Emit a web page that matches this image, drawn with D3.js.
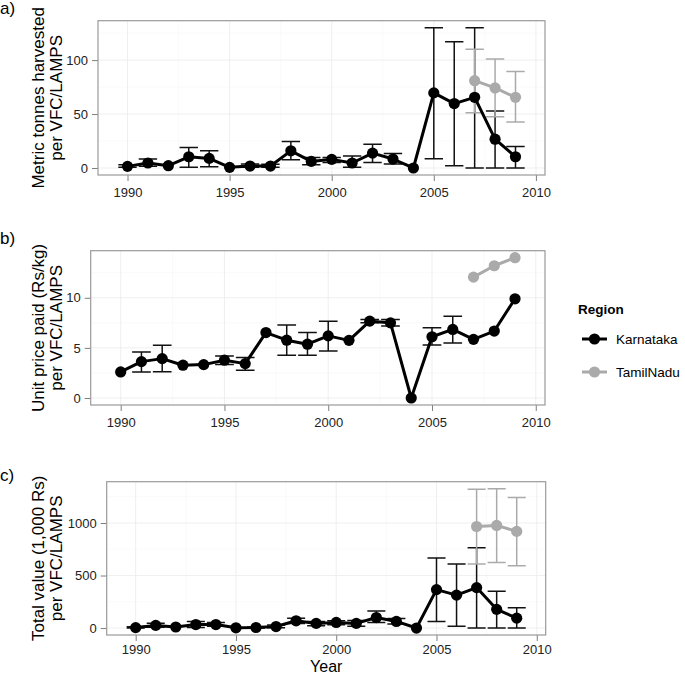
<!DOCTYPE html>
<html>
<head>
<meta charset="utf-8">
<script src="https://cdn.jsdelivr.net/npm/d3@7"></script>
<style>
  body { margin: 0; background: #fff; }
  svg { display: block; font-family: "Liberation Sans", Arial, sans-serif; }
</style>
</head>
<body>
<svg id="chart" width="685" height="675"></svg>
<script>
// ---------------- DATA ----------------
const years = [1990,1991,1992,1993,1994,1995,1996,1997,1998,1999,2000,2001,2002,2003,2004,2005,2006,2007,2008,2009];
const tnYears = [2007, 2008, 2009];
const regions = ["Karnataka", "TamilNadu"];
const xTicks = [1990, 1995, 2000, 2005, 2010];

// a) Metric tonnes harvested per VFC/LAMPS
const harvestK   = [1.5, 4.6, 2.1, 10.4, 8.9, 0.6, 1.8, 1.8, 15.9, 6.1, 8.0, 4.6, 13.8, 8.3, 0, 69.6, 59.7, 65.5, 26.7, 10.4];
const harvestKLo = [0.6, 1.5, null, 0.6, 1.2, null, 0.6, 0.6, 7.7, 3.0, 5.2, 0.6, 5.2, 3.7, null, 8.6, 2.1, 0, 0, 0];
const harvestKHi = [3.0, 8.3, null, 19.0, 15.9, null, 3.7, 3.4, 24.5, 9.8, 9.8, 11.0, 22.0, 13.5, null, 130, 117, 130, 52.7, 19.9];
const harvestT   = [80.9, 74.2, 65.5];
const harvestTLo = [51.2, 47.5, 42.6];
const harvestTHi = [110, 101, 89.4];
const harvestTicks = [0, 50, 100];

// b) Unit price paid (Rs/kg) per VFC/LAMPS
const priceK   = [2.6, 3.63, 3.93, 3.27, 3.33, 3.77, 3.43, 6.53, 5.77, 5.37, 6.2, 5.75, 7.67, 7.5, 0, 6.11, 6.84, 5.85, 6.68, 9.9];
const priceKLo = [null, 2.6, 2.63, null, null, 3.33, 2.77, null, 4.27, 4.27, 4.7, null, 7.5, 7.18, null, 5.28, 5.5, null, null, null];
const priceKHi = [null, 4.6, 5.27, null, null, 4.2, 4.03, null, 7.28, 6.53, 7.67, null, 7.84, 7.84, null, 7.0, 8.17, null, null, null];
const priceT   = [12.06, 13.2, 14.0];
const priceTicks = [0, 5, 10];

// c) Total value (1,000 Rs) per VFC/LAMPS
const valueK   = [4, 25, 10, 33, 33, 2, 5, 14, 69, 44, 53, 44, 100, 63, 0, 366, 313, 385, 178, 94];
const valueKLo = [0, 8, null, 6, 16, null, 0, 2, 44, 22, 31, 16, 53, 38, null, 63, 16, 0, 0, 0];
const valueKHi = [12, 45, null, 63, 53, null, 10, 28, 94, 63, 69, 72, 163, 91, null, 667, 610, 764, 351, 194];
const valueT   = [967, 977, 920];
const valueTLo = [610, 623, 592];
const valueTHi = [1321, 1327, 1243];
const valueTicks = [0, 500, 1000];

// ---------------- STYLE / LAYOUT ----------------
const colors = { Karnataka: "#000000", TamilNadu: "#aaaaaa" };
const svg = d3.select("#chart");

const panels = [
  { tag: "a)", title: ["Metric tonnes harvested", "per VFC/LAMPS"],
    left: 98, right: 545, top: 20.7, bottom: 175, tagY: 14, xLabY: 22,
    k: harvestK, kLo: harvestKLo, kHi: harvestKHi, t: harvestT, tLo: harvestTLo, tHi: harvestTHi, ticks: harvestTicks },
  { tag: "b)", title: ["Unit price paid (Rs/kg)", "per VFC/LAMPS"],
    left: 90.7, right: 545, top: 250.7, bottom: 405, tagY: 244, xLabY: 22,
    k: priceK, kLo: priceKLo, kHi: priceKHi, t: priceT, tLo: null, tHi: null, ticks: priceTicks },
  { tag: "c)", title: ["Total value (1,000 Rs)", "per VFC/LAMPS"],
    left: 106.7, right: 545.7, top: 481.7, bottom: 635, tagY: 481, xLabY: 19,
    k: valueK, kLo: valueKLo, kHi: valueKHi, t: valueT, tLo: valueTLo, tHi: valueTHi, ticks: valueTicks }
];

const ebWidth = 0.9;
const xMin = d3.min(years) - ebWidth / 2, xMax = d3.max(years) + ebWidth / 2;
const xPad = (xMax - xMin) * 0.05;

panels.forEach(p => {
  const allLo = [...p.k, ...p.t, ...p.kLo.filter(v => v != null), ...(p.tLo || [])];
  const allHi = [...p.k, ...p.t, ...p.kHi.filter(v => v != null), ...(p.tHi || [])];
  const yMin = d3.min(allLo), yMax = d3.max(allHi);
  const yPad = (yMax - yMin) * 0.05;

  const x = d3.scaleLinear().domain([xMin - xPad, xMax + xPad]).range([p.left, p.right]);
  const y = d3.scaleLinear().domain([yMin - yPad, yMax + yPad]).range([p.bottom, p.top]);

  const g = svg.append("g");

  g.append("rect").attr("x", p.left).attr("y", p.top)
    .attr("width", p.right - p.left).attr("height", p.bottom - p.top)
    .attr("fill", "#fff");

  // minor grid
  const xMinor = xTicks.slice(0, -1).map(v => v + 2.5);
  const yStep = p.ticks[1] - p.ticks[0];
  const yMinor = [...p.ticks, p.ticks[p.ticks.length - 1] + yStep].map(v => v + yStep / 2)
    .filter(v => v > y.domain()[0] && v < y.domain()[1]);
  g.selectAll(".xminor").data(xMinor).enter().append("line")
    .attr("x1", d => x(d)).attr("x2", d => x(d)).attr("y1", p.top).attr("y2", p.bottom)
    .attr("stroke", "#f7f7f7").attr("stroke-width", 0.6);
  g.selectAll(".yminor").data(yMinor).enter().append("line")
    .attr("y1", d => y(d)).attr("y2", d => y(d)).attr("x1", p.left).attr("x2", p.right)
    .attr("stroke", "#f7f7f7").attr("stroke-width", 0.6);
  // major grid
  g.selectAll(".xmajor").data(xTicks).enter().append("line")
    .attr("x1", d => x(d)).attr("x2", d => x(d)).attr("y1", p.top).attr("y2", p.bottom)
    .attr("stroke", "#ebebeb").attr("stroke-width", 0.8);
  g.selectAll(".ymajor").data(p.ticks).enter().append("line")
    .attr("y1", d => y(d)).attr("y2", d => y(d)).attr("x1", p.left).attr("x2", p.right)
    .attr("stroke", "#ebebeb").attr("stroke-width", 0.8);

  // axes
  const xAxis = d3.axisBottom(x).tickValues(xTicks).tickFormat(d3.format("d")).tickSize(6).tickPadding(6);
  const gx = g.append("g").attr("transform", `translate(0,${p.bottom})`).call(xAxis);
  const yAxis = d3.axisLeft(y).tickValues(p.ticks).tickFormat(d3.format("d")).tickSize(6).tickPadding(4);
  const gy = g.append("g").attr("transform", `translate(${p.left},0)`).call(yAxis);
  [gx, gy].forEach(ax => {
    ax.select(".domain").remove();
    ax.selectAll(".tick line").attr("stroke", "#7f7f7f").attr("stroke-width", 1);
    ax.selectAll(".tick text").attr("fill", "#222").style("font-size", "13px")
      .style("font-family", '"Liberation Sans", Arial, sans-serif');
  });
  gx.selectAll(".tick text").attr("dy", null).attr("y", p.xLabY).attr("dominant-baseline", "auto");

  // series
  const kData = years.map((yr, i) => ({ yr, v: p.k[i], lo: p.kLo[i], hi: p.kHi[i] }));
  const tData = tnYears.map((yr, i) => ({ yr, v: p.t[i], lo: p.tLo ? p.tLo[i] : null, hi: p.tHi ? p.tHi[i] : null }));
  const series = [{ name: "Karnataka", data: kData }, { name: "TamilNadu", data: tData }];

  const plot = g.append("g");
  series.forEach(s => {
    const eb = s.data.filter(d => d.lo != null && d.hi != null);
    const ge = plot.append("g").attr("stroke", colors[s.name] === "#000000" ? "#111" : colors[s.name])
      .attr("stroke-width", 1.5).attr("fill", "none");
    eb.forEach(d => {
      const x0 = x(d.yr - ebWidth / 2), x1 = x(d.yr + ebWidth / 2), xc = x(d.yr);
      ge.append("path").attr("d",
        `M${x0},${y(d.hi)}H${x1}M${xc},${y(d.hi)}V${y(d.lo)}M${x0},${y(d.lo)}H${x1}`);
    });
  });
  const line = d3.line().x(d => x(d.yr)).y(d => y(d.v));
  series.forEach(s => {
    plot.append("path").datum(s.data).attr("d", line)
      .attr("fill", "none").attr("stroke", colors[s.name]).attr("stroke-width", 3)
      .attr("stroke-linejoin", "round");
  });
  series.forEach(s => {
    plot.selectAll(null).data(s.data).enter().append("circle")
      .attr("cx", d => x(d.yr)).attr("cy", d => y(d.v)).attr("r", 5.6)
      .attr("fill", colors[s.name]);
  });

  g.append("rect").attr("x", p.left).attr("y", p.top)
    .attr("width", p.right - p.left).attr("height", p.bottom - p.top)
    .attr("fill", "none").attr("stroke", "#9a9a9a").attr("stroke-width", 1.2);

  const cy = (p.top + p.bottom) / 2;
  [43.5, 61.5].forEach((bx, i) => {
    svg.append("text").attr("transform", `translate(${bx},${cy}) rotate(-90)`)
      .attr("text-anchor", "middle").style("font-size", "17px").attr("fill", "#000")
      .text(p.title[i]);
  });
  svg.append("text").attr("x", 0).attr("y", p.tagY).style("font-size", "17px")
    .attr("fill", "#000").text(p.tag);
});

const pc = panels[2];
svg.append("text").attr("x", (pc.left + pc.right) / 2).attr("y", 671.6)
  .attr("text-anchor", "middle").style("font-size", "16px").attr("fill", "#000").text("Year");

const lg = svg.append("g");
lg.append("text").attr("x", 578).attr("y", 314).style("font-size", "13.5px")
  .style("font-weight", "bold").attr("fill", "#000").text("Region");
regions.forEach((r, i) => {
  const ly = 339 + i * 33;
  lg.append("line").attr("x1", 582).attr("x2", 607).attr("y1", ly).attr("y2", ly)
    .attr("stroke", colors[r]).attr("stroke-width", 3);
  lg.append("circle").attr("cx", 594.5).attr("cy", ly).attr("r", 5.6).attr("fill", colors[r]);
  lg.append("text").attr("x", 616).attr("y", ly + 5).style("font-size", "13.5px")
    .attr("fill", "#000").text(r);
});
</script>
</body>
</html>
